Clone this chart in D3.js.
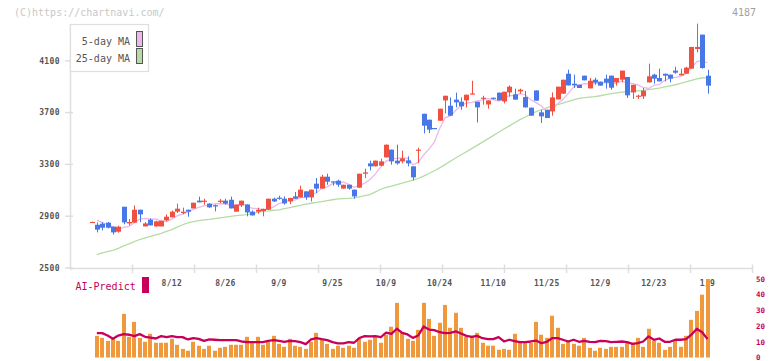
<!DOCTYPE html>
<html>
<head>
<meta charset="utf-8">
<script src="https://cdn.jsdelivr.net/npm/d3@7/dist/d3.min.js"></script>
<style>
  body { margin: 0; background: #fff; }
  svg text { font-family: "DejaVu Sans Mono", monospace; }
</style>
</head>
<body>
<script>
// daily candles (index 0 .. 115), prices in yen
const opens = [2852,2834,2842,2850,2819,2780,2973,2844,2850,2950,
  2821,2873,2821,2821,2868,2891,2935,2925,2950,2960,
  3020,3012,2997,2985,3017,3020,3027,2935,2983,2991,
  2935,2935,2940,2950,3035,3043,3035,3014,3053,3045,
  3092,3045,3151,3113,3205,3169,3174,3113,3143,3105,
  3120,3228,3308,3285,3290,3354,3414,3329,3323,3331,
  3285,3410,3691,3645,3581,3637,3794,3753,3800,3784,
  3794,3846,3784,3807,3763,3815,3854,3786,3856,3841,
  3864,3820,3738,3871,3702,3722,3709,3802,3846,4000,
  3923,3915,3985,3887,3954,3939,3962,3985,3933,3954,
  3975,3856,3823,3825,3933,3993,3967,4000,3993,4024,
  3987,4000,4039,4191,4302,3985];
const highs = [2857,2852,2855,2855,2819,2827,2973,2878,2983,2950,
  2855,2883,2865,2865,2914,2944,2997,2966,2950,3004,
  3051,3035,3000,2990,3033,3035,3051,2989,3020,2991,
  2945,2966,2958,3035,3043,3058,3053,3041,3087,3136,
  3092,3105,3195,3220,3228,3169,3182,3143,3143,3105,
  3228,3267,3329,3329,3344,3454,3414,3452,3406,3362,
  3285,3429,3691,3645,3581,3730,3830,3817,3854,3817,
  3838,3946,3784,3830,3794,3815,3854,3861,3910,3885,
  3885,3867,3738,3871,3722,3722,3856,3900,3954,4031,
  3993,3915,3985,3967,3970,3939,3993,3985,3967,4024,
  3975,3915,3838,3890,4078,4000,4039,4000,3993,4054,
  4039,4054,4207,4387,4302,4031];
const lows = [2850,2775,2790,2806,2759,2773,2837,2829,2850,2855,
  2821,2829,2819,2821,2860,2891,2925,2914,2896,2960,
  3007,2989,2965,2937,3002,2989,2960,2935,2971,2899,
  2906,2919,2899,2950,3010,3027,2989,2994,3035,3045,
  3027,3014,3079,3113,3143,3136,3126,3113,3105,3035,
  3120,3195,3254,3285,3285,3354,3298,3298,3308,3285,
  3177,3310,3539,3542,3573,3637,3694,3676,3740,3722,
  3740,3841,3624,3761,3730,3800,3794,3771,3823,3800,
  3846,3740,3676,3792,3620,3658,3676,3802,3846,3910,
  3890,3890,3949,3887,3915,3908,3885,3877,3908,3933,
  3813,3805,3805,3805,3933,3923,3941,3941,3933,4000,
  3987,4000,4039,4165,4039,3846];
const closes = [2856,2796,2811,2811,2775,2819,2852,2855,2950,2914,
  2844,2829,2860,2865,2896,2935,2958,2935,2935,3004,
  3007,3020,2968,2975,3020,2997,2960,2989,3020,2929,
  2906,2950,2956,3035,3014,3035,2999,3041,3035,3105,
  3045,3105,3113,3205,3166,3164,3143,3143,3113,3053,
  3228,3238,3285,3329,3323,3452,3323,3308,3346,3308,
  3200,3414,3599,3568,3573,3730,3830,3676,3779,3748,
  3838,3848,3740,3815,3794,3807,3794,3861,3900,3800,
  3877,3740,3676,3792,3671,3658,3817,3900,3954,3910,
  3910,3890,3949,3946,3931,3908,3931,3892,3967,4024,
  3833,3915,3831,3869,3980,3962,3941,3985,3962,4008,
  4000,4047,4207,4207,4044,3908];

const ma5 = [null,2870,2850,2835,2820,2802,2814,2822,2850,2878,2883,
  2878,2879,2862,2859,2877,2903,2918,2932,2953,2968,
  2980,2987,2995,2998,2996,2984,2988,2997,2979,2961,
  2959,2952,2955,2972,2998,3008,3025,3025,3043,3045,
  3066,3081,3115,3127,3151,3158,3164,3146,3123,3136,
  3155,3183,3227,3281,3325,3342,3347,3350,3347,3297,
  3315,3373,3418,3471,3577,3660,3675,3718,3753,3774,
  3778,3791,3798,3807,3801,3790,3814,3831,3832,3846,
  3836,3799,3777,3751,3707,3723,3768,3800,3848,3898,
  3913,3923,3921,3925,3925,3933,3922,3926,3944,3929,
  3926,3914,3894,3886,3911,3917,3947,3966,3972,3979,
  4000,4045,4094,4101,4083];
const ma25 = [null,2604,2616,2626,2637,2652,2671,2687,2703,2720,2732,
  2744,2756,2768,2782,2797,2815,2834,2849,2858,2865,
  2871,2875,2881,2887,2893,2899,2904,2908,2912,2920,
  2929,2937,2941,2946,2949,2958,2967,2976,2984,2993,
  3000,3006,3013,3020,3027,3034,3036,3038,3042,3050,
  3058,3066,3088,3108,3123,3133,3144,3155,3167,3179,
  3191,3209,3230,3251,3273,3298,3324,3349,3374,3398,
  3422,3447,3472,3497,3522,3548,3573,3597,3622,3646,
  3666,3686,3707,3722,3737,3752,3762,3774,3786,3798,
  3810,3816,3820,3824,3830,3839,3846,3853,3858,3861,
  3864,3868,3871,3877,3883,3889,3898,3907,3915,3925,
  3937,3949,3960,3967,3970];

// lower panel (0-50 scale)
const volume = [null,13.8,12.5,10.6,11.9,10.6,27.8,13.2,22.7,12.5,10.0,
  15.1,9.4,9.4,9.4,11.9,8.1,5.5,4.3,10.0,7.5,
  5.5,7.5,4.3,6.2,6.8,8.1,8.1,8.1,13.2,9.4,
  13.2,8.1,10.0,13.8,8.7,6.8,11.9,7.5,6.8,5.5,
  10.0,15.7,11.3,8.7,5.5,7.5,6.2,7.5,6.2,12.5,
  10.0,11.3,13.2,9.4,14.5,19.6,34.8,15.7,11.9,10.6,
  17.6,34.8,24.6,13.8,22.1,33.5,18.9,28.5,18.9,13.2,
  13.8,15.7,9.4,7.5,7.5,4.9,5.5,4.9,15.1,9.4,
  9.4,9.4,22.7,14.5,12.5,26.6,18.9,8.7,10.6,8.7,
  7.5,12.5,6.2,4.3,6.2,5.5,6.8,6.8,6.8,9.4,
  9.4,12.5,6.8,18.3,10.6,9.4,4.9,6.8,10.6,6.8,
  13.8,24.0,29.7,40,50];
const aiPredict = [null,15.5,15.5,14.0,11.9,14.0,14.9,14.5,13.6,14.9,13.2,
  12.7,12.1,13.6,13.0,13.6,13.0,13.0,11.5,12.4,11.9,
  10.6,11.5,11.3,11.1,11.1,11.1,11.1,10.2,9.8,9.8,
  9.8,9.8,10.6,11.1,10.6,10.0,10.6,10.4,9.8,8.5,
  11.5,12.4,11.7,11.1,9.8,9.0,9.0,9.8,9.4,12.4,
  13.6,13.4,13.6,12.9,15.9,15.1,18.3,15.7,14.7,12.5,
  14.0,19.7,17.8,17.4,16.1,15.5,15.7,16.6,15.3,13.8,
  13.2,13.8,12.3,11.7,11.7,13.0,10.2,11.3,10.4,9.8,
  9.8,10.2,10.8,9.1,10.0,12.3,12.3,11.3,10.2,11.3,
  10.0,10.6,10.0,9.8,10.6,10.4,9.8,10.0,10.2,9.8,
  8.7,9.1,10.2,13.4,11.3,12.1,10.0,10.0,11.3,11.3,
  11.7,14.5,18.3,16.1,11.7];

const dateLabels = ["8/12","8/26","9/9","9/25","10/9","10/24","11/10","11/25","12/9","12/23","1/9"];
const dateIndex = [15,25,35,45,55,65,75,85,95,105,115];
const priceTicks = [2500,2900,3300,3700,4100];
const lowerTicks = [0,10,20,30,40,50];

const width = 772, height = 361;
const plotLeft = 70.5, plotRight = 752, plotTop = 24, plotBottom = 268.5;
const upColor = "#f05040", downColor = "#4878e8";

const svg = d3.select("body").append("svg")
    .attr("width", width)
    .attr("height", height);

svg.append("rect").attr("width", width).attr("height", height).attr("fill", "#fff");

const x = d3.scaleLinear().domain([0, closes.length - 1]).range([91.5, 707.5]);
const y = d3.scaleLinear().domain([2500, 4384]).range([268, 24]);
const yLow = d3.scaleLinear().domain([0, 50]).range([357.5, 279]);

// watermark + code
svg.append("text").attr("x", 14).attr("y", 15.5)
    .attr("font-size", "10px").attr("fill", "#c8c8c8")
    .text("(C)https://chartnavi.com/");
svg.append("text").attr("x", 756).attr("y", 15.5)
    .attr("text-anchor", "end").attr("font-size", "10px").attr("fill", "#a0a0a0")
    .text("4187");

// axes
const axisColor = "#dedede";
svg.append("line").attr("x1", plotLeft).attr("x2", plotLeft)
    .attr("y1", plotTop).attr("y2", 270)
    .attr("stroke", axisColor).attr("stroke-width", 1.5);
svg.append("line").attr("x1", plotLeft).attr("x2", plotRight)
    .attr("y1", plotBottom).attr("y2", plotBottom)
    .attr("stroke", axisColor).attr("stroke-width", 1.5);

// evenly spaced ticks along the time axis
const gridX = d3.scaleLinear().domain([0, 11]).range([plotLeft, plotRight]);
svg.append("g").selectAll("line")
    .data(d3.range(1, 12))
    .join("line")
    .attr("x1", d => Math.round(gridX(d)) + 0.5)
    .attr("x2", d => Math.round(gridX(d)) + 0.5)
    .attr("y1", 264.5).attr("y2", 273)
    .attr("stroke", axisColor).attr("stroke-width", 1.5);

const yTicks = svg.append("g");
yTicks.selectAll("line")
    .data(priceTicks)
    .join("line")
    .attr("x1", 65).attr("x2", 73)
    .attr("y1", d => y(d)).attr("y2", d => y(d))
    .attr("stroke", axisColor).attr("stroke-width", 1.5);
yTicks.selectAll("text")
    .data(priceTicks)
    .join("text")
    .attr("x", 60).attr("y", d => y(d))
    .attr("dy", "0.36em")
    .attr("text-anchor", "end")
    .attr("font-size", "8px")
    .attr("font-weight", "bold")
    .attr("letter-spacing", "0.4px")
    .attr("fill", "#555")
    .text(d => d);

svg.append("g").selectAll("text")
    .data(dateLabels)
    .join("text")
    .attr("x", (d, i) => x(dateIndex[i]))
    .attr("y", 285.5)
    .attr("text-anchor", "middle")
    .attr("font-size", "8px")
    .attr("font-weight", "bold")
    .attr("letter-spacing", "0.3px")
    .attr("fill", "#555")
    .text(d => d);

// moving averages (behind candles)
const maLine = d3.line()
    .defined(d => d != null)
    .x((d, i) => x(i))
    .y(d => y(d));

svg.append("path").datum(ma25)
    .attr("fill", "none").attr("stroke", "#b4dca4").attr("stroke-width", 1.3)
    .attr("d", maLine);
svg.append("path").datum(ma5)
    .attr("fill", "none").attr("stroke", "#ecb8ec").attr("stroke-width", 1.3)
    .attr("d", maLine);

// candles
const candles = closes.map((c, i) => ({ i, o: opens[i], h: highs[i], l: lows[i], c }));
const candleG = svg.append("g").selectAll("g")
    .data(candles)
    .join("g");

candleG.append("line")
    .attr("x1", d => Math.round(x(d.i)) + 0.5)
    .attr("x2", d => Math.round(x(d.i)) + 0.5)
    .attr("y1", d => y(d.h))
    .attr("y2", d => y(d.l))
    .attr("stroke", d => d.c >= d.o ? upColor : downColor)
    .attr("stroke-width", 1);

candleG.append("rect")
    .attr("x", d => Math.round(x(d.i)) - 2)
    .attr("width", 5)
    .attr("y", d => y(Math.max(d.o, d.c)))
    .attr("height", d => Math.max(1.2, Math.abs(y(d.o) - y(d.c))))
    .attr("fill", d => d.c >= d.o ? upColor : downColor);

// legend
const legend = svg.append("g");
legend.append("rect")
    .attr("x", 70.5).attr("y", 24.5).attr("width", 78).attr("height", 47)
    .attr("fill", "#fff").attr("stroke", "#dedede").attr("stroke-width", 1.2);
const legendItems = [
    { label: "5-day MA", color: "#ecb8ec", y: 31.5 },
    { label: "25-day MA", color: "#b4dca4", y: 48.5 }
];
legend.selectAll("rect.key")
    .data(legendItems)
    .join("rect")
    .attr("class", "key")
    .attr("x", 136.5).attr("y", d => d.y)
    .attr("width", 6).attr("height", 15)
    .attr("fill", d => d.color).attr("stroke", "#555").attr("stroke-width", 1);
legend.selectAll("text")
    .data(legendItems)
    .join("text")
    .attr("x", 130).attr("y", d => d.y + 13)
    .attr("text-anchor", "end")
    .attr("font-size", "10px")
    .attr("fill", "#555")
    .text(d => d.label);

// lower panel
const aiColor = "#c8005a";
svg.append("text").attr("x", 75.5).attr("y", 289.5)
    .attr("font-size", "10px").attr("fill", aiColor)
    .text("AI-Predict");
svg.append("rect").attr("x", 142).attr("y", 277).attr("width", 7).attr("height", 16)
    .attr("fill", aiColor);

svg.append("g").selectAll("rect")
    .data(volume.map((v, i) => ({ i, v })).filter(d => d.v != null))
    .join("rect")
    .attr("x", d => Math.round(x(d.i)) - 2)
    .attr("width", 4)
    .attr("y", d => yLow(d.v))
    .attr("height", d => yLow(0) - yLow(d.v))
    .attr("fill", "#f0983c");

svg.append("path").datum(aiPredict)
    .attr("fill", "none").attr("stroke", aiColor).attr("stroke-width", 2.3)
    .attr("stroke-linejoin", "round")
    .attr("d", d3.line().defined(d => d != null).x((d, i) => x(i)).y(d => yLow(d)));

svg.append("g").selectAll("text")
    .data(lowerTicks)
    .join("text")
    .attr("x", 756).attr("y", d => yLow(d))
    .attr("dy", "0.36em")
    .attr("font-size", "7.5px")
    .attr("font-weight", "bold")
    .attr("fill", aiColor)
    .text(d => d);
</script>
</body>
</html>
